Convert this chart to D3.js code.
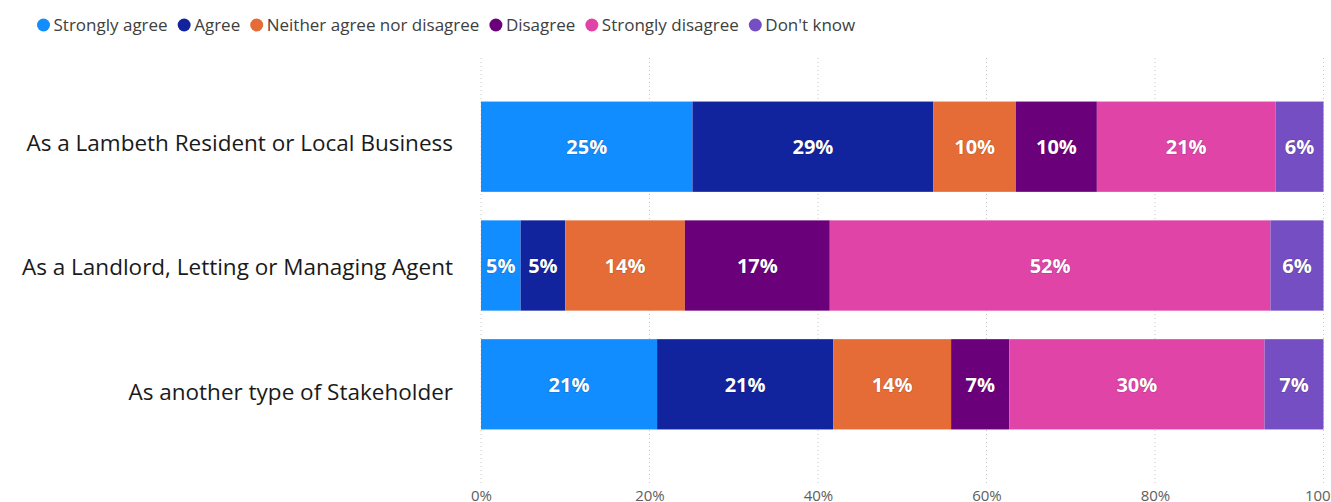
<!DOCTYPE html>
<html>
<head>
<meta charset="utf-8">
<script src="https://cdn.jsdelivr.net/npm/d3@7/dist/d3.min.js"></script>
<style>
  html, body { margin: 0; padding: 0; background: #ffffff; overflow: hidden; }
  svg { display: block; }
</style>
</head>
<body>
<svg id="chart" width="1331" height="502"></svg>
<script>
// Respondent groups (rows)
const categories = [
  "As a Lambeth Resident or Local Business",
  "As a Landlord, Letting or Managing Agent",
  "As another type of Stakeholder"
];

// Response options (stack order, left to right)
const seriesNames = ["Strongly agree", "Agree", "Neither agree nor disagree", "Disagree", "Strongly disagree", "Don't know"];
const seriesColors = ["#118DFF", "#12239E", "#E66C37", "#6B007B", "#E044A7", "#744EC2"];

// Share of respondents (%) per group, one array per response option
const stronglyAgree    = [25.1,  4.7, 20.9];
const agree            = [28.6,  5.3, 20.9];
const neither          = [ 9.8, 14.2, 14.0];
const disagree         = [ 9.6, 17.2,  6.9];
const stronglyDisagree = [21.2, 52.3, 30.3];
const dontKnow         = [ 5.7,  6.3,  7.0];

const xTicks = [0, 20, 40, 60, 80, 100];

const seriesValues = [stronglyAgree, agree, neither, disagree, stronglyDisagree, dontKnow];

// Rows for d3.stack
const rows = categories.map((c, i) => {
  const r = { category: c };
  seriesNames.forEach((s, j) => { r[s] = seriesValues[j][i]; });
  return r;
});

const svg = d3.select("#chart");
const FONT = "'Segoe UI', 'Open Sans', 'Noto Sans', sans-serif";

const x = d3.scaleLinear().domain([0, 100]).range([481, 1323.5]);
const y = d3.scaleBand().domain(categories).range([87.3, 443.7]).paddingInner(0.24).paddingOuter(0.12);
// Category axis labels sit on their own slightly wider spacing
const yLabel = d3.scalePoint().domain(categories).range([143, 391.5]);

// Dotted vertical gridlines
svg.append("g")
  .selectAll("line")
  .data(xTicks)
  .join("line")
  .attr("x1", d => x(d)).attr("x2", d => x(d))
  .attr("y1", 58).attr("y2", 483)
  .attr("stroke", "#c8c6c4")
  .attr("stroke-width", 1)
  .attr("stroke-dasharray", "1,3");

// X axis tick labels (run off the bottom/right edge of the canvas)
const xAxis = d3.axisBottom(x).tickValues(xTicks).tickFormat(d => d + "%").tickSize(0).tickPadding(0);
const gx = svg.append("g").attr("transform", "translate(0,490)").call(xAxis);
gx.select(".domain").remove();
gx.selectAll("text")
  .attr("dy", "0.71em")
  .attr("font-family", FONT)
  .attr("font-size", 15)
  .attr("fill", "#605E5C");

// Category labels
svg.append("g")
  .selectAll("text")
  .data(categories)
  .join("text")
  .attr("x", 453)
  .attr("y", d => yLabel(d))
  .attr("dy", "0.36em")
  .attr("text-anchor", "end")
  .attr("font-family", FONT)
  .attr("font-size", 22.5)
  .attr("fill", "#1a1a1a")
  .text(d => d);

// Stacked bars
const stack = d3.stack().keys(seriesNames);
const stacked = stack(rows);

const layers = svg.append("g")
  .selectAll("g")
  .data(stacked)
  .join("g")
  .attr("fill", (d, i) => seriesColors[i]);

layers.selectAll("rect")
  .data(d => d.map(p => ({ p, key: d.key })))
  .join("rect")
  .attr("x", d => x(d.p[0]))
  .attr("y", d => y(d.p.data.category))
  .attr("width", d => x(d.p[1]) - x(d.p[0]))
  .attr("height", y.bandwidth());

// Data labels
layers.selectAll("text")
  .data(d => d.map(p => ({ p, key: d.key })))
  .join("text")
  .attr("x", d => (x(d.p[0]) + x(d.p[1])) / 2)
  .attr("y", d => y(d.p.data.category) + y.bandwidth() / 2)
  .attr("dy", "0.36em")
  .attr("text-anchor", "middle")
  .attr("font-family", FONT)
  .attr("font-size", 20)
  .attr("font-weight", "bold")
  .attr("fill", "#ffffff")
  .attr("stroke", "rgba(0,0,0,0.2)")
  .attr("stroke-width", 1.2)
  .attr("paint-order", "stroke")
  .text(d => Math.round(d.p[1] - d.p[0]) + "%");

// Legend
const legend = svg.append("g").attr("transform", "translate(0,25)");
let lx = 43.5;
seriesNames.forEach((name, i) => {
  legend.append("circle")
    .attr("cx", lx).attr("cy", 0).attr("r", 6.5)
    .attr("fill", seriesColors[i]);
  const t = legend.append("text")
    .attr("x", lx + 10)
    .attr("y", 0)
    .attr("dy", "0.35em")
    .attr("font-family", FONT)
    .attr("font-size", 17)
    .attr("fill", "#404040")
    .text(name);
  lx = lx + 10 + t.node().getComputedTextLength() + 10 + 6.5;
});
</script>
</body>
</html>
